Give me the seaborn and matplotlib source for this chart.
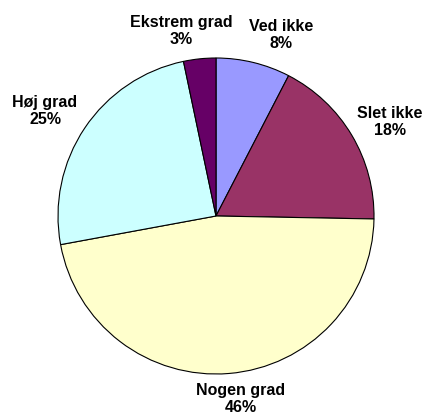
import matplotlib
matplotlib.use("Agg")
import matplotlib.pyplot as plt
import seaborn as sns

# slices, clockwise from 12 o'clock
categories = ["Ved ikke", "Slet ikke", "Nogen grad", "Høj grad", "Ekstrem grad"]
shares = [7.6, 17.7, 46.8, 24.6, 3.3]
pct_labels = ["8%", "18%", "46%", "25%", "3%"]
colors = ["#9999FF", "#993366", "#FFFFCC", "#CCFFFF", "#660066"]

# label centres in pie-radius units (placed by hand like the original)
label_xy = [(0.41, 1.146), (1.10, 0.595), (0.158, -1.16), (-1.082, 0.665), (-0.222, 1.171)]

sns.set_theme(style="white")
plt.rcParams["font.family"] = ["Liberation Sans", "DejaVu Sans"]

fig = plt.figure(figsize=(4.25, 4.18), dpi=100)
# square box of 316 px, pie centred at (216, 216) from the top-left
ax = fig.add_axes([58 / 425, 44 / 418, 316 / 425, 316 / 418])

wedges, _ = ax.pie(
    shares,
    colors=colors,
    startangle=90,
    counterclock=False,
    wedgeprops=dict(edgecolor="black", linewidth=0.8),
)
for cat, pct, (x, y) in zip(categories, pct_labels, label_xy):
    ax.text(x, y, f"{cat}\n{pct}", ha="center", va="center",
            fontsize=11.5, fontweight="bold", color="black",
            linespacing=1.2, clip_on=False)

ax.set_xlim(-1, 1)
ax.set_ylim(-1, 1)
ax.set_axis_off()

fig.savefig("out.png", dpi=100, facecolor="white")
